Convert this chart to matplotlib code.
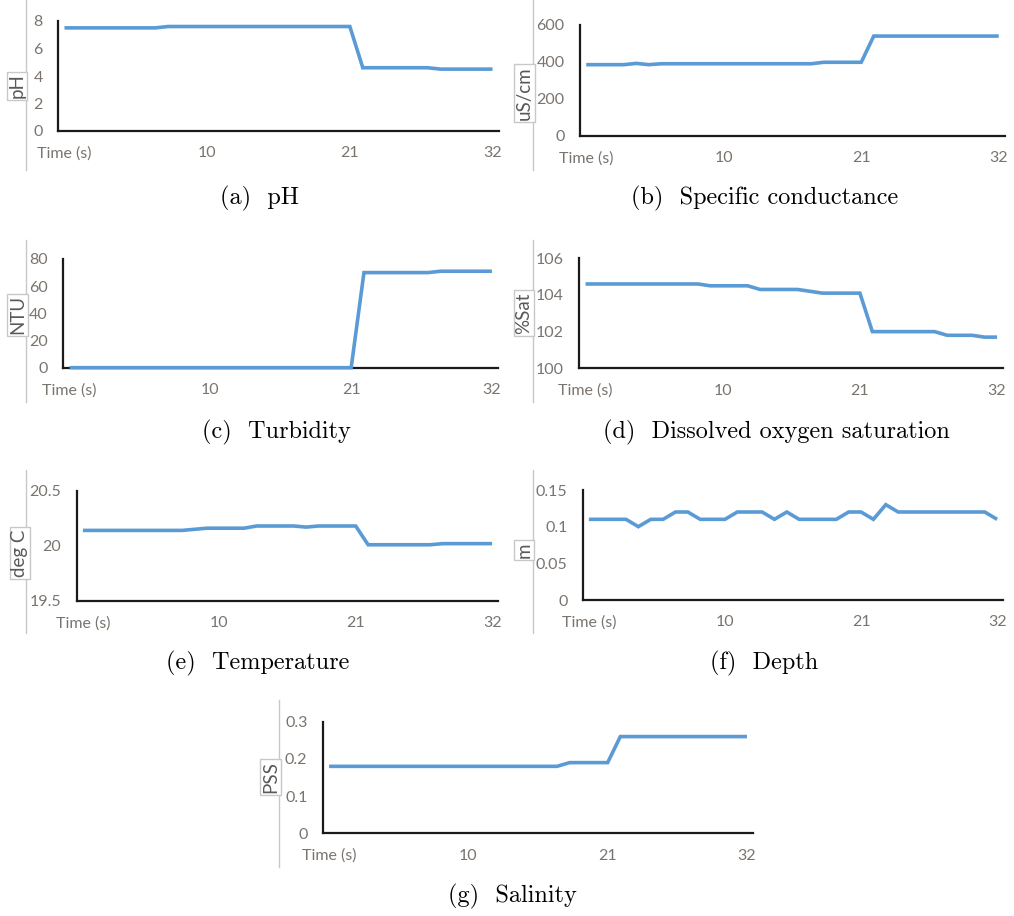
import matplotlib
matplotlib.use("Agg")
import matplotlib.pyplot as plt
from matplotlib.lines import Line2D

# ---------------- data ----------------
categories = ["Time (s)", "0", "1", "2", "3", "4", "5", "6", "7", "8", "9", "10",
              "11", "12", "13", "14", "15", "16", "17", "18", "19", "20", "21",
              "22", "23", "24", "25", "26", "27", "28", "29", "30", "31", "32"]
xtick_labels = ["Time (s)", "10", "21", "32"]

ph = [7.5] * 8 + [7.6] * 15 + [4.6] * 6 + [4.5] * 5
conductance = [385, 385, 385, 385, 392, 385] + [390] * 13 + [398] * 4 + [540] * 11
turbidity = [0] * 23 + [70] * 6 + [71] * 5
do_sat = [104.6] * 10 + [104.5] * 4 + [104.3] * 4 + [104.2] + [104.1] * 4 + \
         [102.0] * 6 + [101.8] * 3 + [101.7] * 2
temperature = [20.14] * 8 + [20.14, 20.15, 20.16] + [20.16] * 3 + [20.18] * 4 + \
              [20.17] + [20.18] * 4 + [20.01] * 6 + [20.02] * 5
depth = [0.11] * 4 + [0.10] + [0.11] * 2 + [0.12] * 2 + [0.11] * 3 + [0.12] * 3 + \
        [0.11] + [0.12] + [0.11] * 4 + [0.12] * 2 + [0.11] + [0.13] + [0.12] * 8 + [0.11]
salinity = [0.18] * 19 + [0.19] * 4 + [0.26] * 11

captions = ["(a)  pH", "(b)  Specific conductance", "(c)  Turbidity",
            "(d)  Dissolved oxygen saturation", "(e)  Temperature",
            "(f)  Depth", "(g)  Salinity"]
ylabels = ["pH", "uS/cm", "NTU", "%Sat", "deg C", "m", "PSS"]

# ---------------- layout (pixels) ----------------
W, H = 1014, 916
fig = plt.figure(figsize=(W / 100, H / 100), dpi=100)
fig.patch.set_facecolor("white")

LINE_COLOR = "#5B9BD5"
TICK_COLOR = "#7a746f"
LABEL_COLOR = "#595959"
FRAME_COLOR = "#c8c8c8"
TICK_FONT = "Lato"

panels = [
    (ph, (0, 8), [0, 2, 4, 6, 8], ["0", "2", "4", "6", "8"],
     (58, 499, 21, 131), (25.7, 0, 170), (17, 86), (260, 198)),
    (conductance, (0, 600), [0, 200, 400, 600], ["0", "200", "400", "600"],
     (580, 1005, 25, 135.7), (533, 0, 170), (524.5, 93), (765, 198)),
    (turbidity, (0, 80), [0, 20, 40, 60, 80], ["0", "20", "40", "60", "80"],
     (63.3, 498.3, 259, 367.7), (26, 240, 402), (17.5, 315), (276, 432)),
    (do_sat, (100, 106), [100, 102, 104, 106], ["100", "102", "104", "106"],
     (579.3, 1003.3, 258.3, 368.3), (533.3, 240, 402), (524, 313), (776, 432)),
    (temperature, (19.5, 20.5), [19.5, 20, 20.5], ["19.5", "20", "20.5"],
     (76.7, 498.3, 490.7, 601), (26, 470, 633), (20, 553), (258, 663)),
    (depth, (0, 0.15), [0, 0.05, 0.1, 0.15], ["0", "0.05", "0.1", "0.15"],
     (582.7, 1003.3, 490, 600), (533, 470, 633), (524, 550), (764, 663)),
    (salinity, (0, 0.3), [0, 0.1, 0.2, 0.3], ["0", "0.1", "0.2", "0.3"],
     (322.7, 753.3, 721.7, 833.3), (279.3, 700, 867), (270.5, 777), (512, 896)),
]

x = list(range(len(categories)))
xtick_pos = [categories.index(lbl) for lbl in xtick_labels]

for i, (series, ylim, yticks, ytl, box, frame, lab, cap) in enumerate(panels):
    l, r, t, b = box
    ax = fig.add_axes([l / W, 1 - b / H, (r - l) / W, (b - t) / H])
    ax.plot(x, series, color=LINE_COLOR, lw=2.6, solid_joinstyle="miter",
            solid_capstyle="butt", clip_on=False, zorder=3)
    ax.set_xlim(-0.5, len(categories) - 0.5)
    ax.set_ylim(*ylim)
    ax.set_yticks(yticks)
    ax.set_yticklabels(ytl)
    ax.set_xticks(xtick_pos)
    ax.set_xticklabels(xtick_labels)
    for sp in ["top", "right"]:
        ax.spines[sp].set_visible(False)
    for sp in ["left", "bottom"]:
        ax.spines[sp].set_color("#1a1a1a")
        ax.spines[sp].set_linewidth(1.6)
    ax.tick_params(axis="both", length=0, colors=TICK_COLOR, labelsize=11.5, pad=11)
    for tl in ax.get_xticklabels() + ax.get_yticklabels():
        tl.set_fontfamily(TICK_FONT)
        tl.set_color(TICK_COLOR)
    ax.set_facecolor("none")

    # light gray chart frame edge on the left
    fx, fy0, fy1 = frame
    fig.add_artist(Line2D([fx / W, fx / W], [1 - fy0 / H, 1 - fy1 / H],
                          color=FRAME_COLOR, lw=1.0, transform=fig.transFigure))
    # boxed y label
    lx, ly = lab
    fig.text(lx / W, 1 - ly / H, ylabels[i], rotation=90, ha="center", va="center",
             fontsize=13.5, family=TICK_FONT, color=LABEL_COLOR,
             bbox=dict(boxstyle="square,pad=0.1", fc="white", ec=FRAME_COLOR, lw=1.0))
    # caption
    cx, cy = cap
    fig.text(cx / W, 1 - cy / H, captions[i], ha="center", va="center",
             fontsize=17.5, family="cmr10", color="black")

fig.savefig("out.png", dpi=100, facecolor="white")
